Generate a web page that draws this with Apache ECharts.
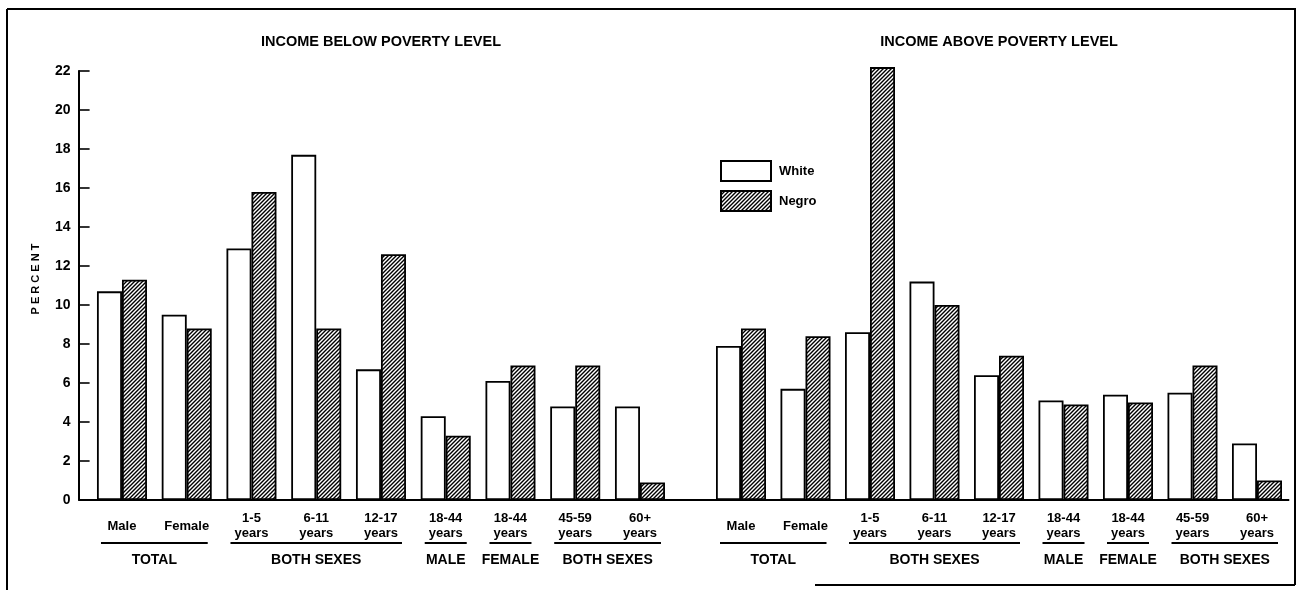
<!DOCTYPE html>
<html>
<head>
<meta charset="utf-8">
<script src="https://cdn.jsdelivr.net/npm/echarts@6/dist/echarts.min.js"></script>
<style>
  html, body { margin: 0; padding: 0; background: #fff; }
  #main { width: 1299px; height: 590px; }
</style>
</head>
<body>
<div id="main"></div>
<script>
// categories and values
const categories = ['Male', 'Female', '1-5\nyears', '6-11\nyears', '12-17\nyears', '18-44\nyears', '18-44\nyears', '45-59\nyears', '60+\nyears'];
const belowWhite = [10.7, 9.5, 12.9, 17.7, 6.7, 4.3, 6.1, 4.8, 4.8];
const belowNegro = [11.3, 8.8, 15.8, 8.8, 12.6, 3.3, 6.9, 6.9, 0.9];
const aboveWhite = [7.9, 5.7, 8.6, 11.2, 6.4, 5.1, 5.4, 5.5, 2.9];
const aboveNegro = [8.8, 8.4, 22.2, 10.0, 7.4, 4.9, 5.0, 6.9, 1.0];
const groupLabels = ['TOTAL', 'BOTH SEXES', 'MALE', 'FEMALE', 'BOTH SEXES'];
const groupSpans = [[0, 1], [2, 4], [5, 5], [6, 6], [7, 8]];
const panelTitles = ['INCOME BELOW POVERTY LEVEL', 'INCOME ABOVE POVERTY LEVEL'];
const yMin = 0, yMax = 22, yStep = 2;

const FONT = 'Liberation Sans, Arial, sans-serif';
const GRID_TOP = 71, GRID_BOTTOM = 90;
const grids = [
  { left: 89.6, top: GRID_TOP, width: 582.75, bottom: GRID_BOTTOM },
  { left: 708.75, top: GRID_TOP, width: 580.5, bottom: GRID_BOTTOM }
];

// diagonal hatch used for the Negro bars
function hatch() {
  const c = document.createElement('canvas');
  c.width = 4; c.height = 4;
  const ctx = c.getContext('2d');
  ctx.fillStyle = '#fff';
  ctx.fillRect(0, 0, 4, 4);
  ctx.strokeStyle = '#000';
  ctx.lineWidth = 1.4;
  ctx.beginPath();
  ctx.moveTo(0, 4); ctx.lineTo(4, 0);
  ctx.moveTo(-1, 1); ctx.lineTo(1, -1);
  ctx.moveTo(3, 5); ctx.lineTo(5, 3);
  ctx.stroke();
  return c;
}
const hatchFill = { image: hatch(), repeat: 'repeat' };

function xAxisFor(i) {
  return {
    type: 'category', gridIndex: i, data: categories,
    axisLine: { show: false }, axisTick: { show: false },
    axisLabel: {
      color: '#000', fontFamily: FONT, fontWeight: 'bold', fontSize: 13,
      lineHeight: 15, margin: 26, verticalAlign: 'middle', interval: 0
    }
  };
}
function yAxisFor(i) {
  return {
    type: 'value', gridIndex: i, min: yMin, max: yMax, interval: yStep,
    show: i === 0, offset: 11,
    splitLine: { show: false },
    axisLine: { show: true, lineStyle: { color: '#000', width: 2 } },
    axisTick: { show: true, inside: true, length: 11, lineStyle: { color: '#000', width: 1.6 } },
    axisLabel: { color: '#000', fontFamily: FONT, fontWeight: 'bold', fontSize: 14, margin: 8 }
  };
}
function barSeries(name, data, i, fill) {
  return {
    name: name, type: 'bar', data: data, xAxisIndex: i, yAxisIndex: i,
    barWidth: 25, barGap: '0%', clip: false,
    itemStyle: { color: fill, borderColor: '#000', borderWidth: 1.8 }
  };
}

const chart = echarts.init(document.getElementById('main'));
chart.setOption({
  animation: false,
  backgroundColor: '#fff',
  textStyle: { fontFamily: FONT },
  title: panelTitles.map((t, i) => ({
    text: t, left: grids[i].left + grids[i].width / 2, top: 34, textAlign: 'center', padding: 0,
    textStyle: { color: '#000', fontFamily: FONT, fontWeight: 'bold', fontSize: 14.5 }
  })),
  legend: {
    data: ['White', 'Negro'], orient: 'vertical', left: 715, top: 155,
    itemWidth: 50, itemHeight: 20, itemGap: 8, icon: 'rect',
    itemStyle: { borderColor: '#000', borderWidth: 2 },
    textStyle: { color: '#000', fontFamily: FONT, fontWeight: 'bold', fontSize: 13, padding: [0, 0, 0, 3] }
  },
  grid: grids,
  xAxis: [xAxisFor(0), xAxisFor(1)],
  yAxis: [yAxisFor(0), yAxisFor(1)],
  series: [
    barSeries('White', belowWhite, 0, '#fff'),
    barSeries('Negro', belowNegro, 0, hatchFill),
    barSeries('White', aboveWhite, 1, '#fff'),
    barSeries('Negro', aboveNegro, 1, hatchFill)
  ]
});

// baseline, group underlines and group names placed from the axes
const gfx = [];
const origin = chart.convertToPixel({ gridIndex: 0 }, [0, 0]);
const yAxisX = grids[0].left - 11;
const rightEnd = grids[1].left + grids[1].width;
gfx.push({ type: 'line', shape: { x1: yAxisX, y1: origin[1], x2: rightEnd, y2: origin[1] }, style: { stroke: '#000', lineWidth: 2 }, z: 10 });
[0, 1].forEach(function (gi) {
  groupSpans.forEach(function (span, k) {
    const x1 = chart.convertToPixel({ gridIndex: gi }, [span[0], 0])[0] - 21;
    const x2 = chart.convertToPixel({ gridIndex: gi }, [span[1], 0])[0] + 21;
    gfx.push({ type: 'line', shape: { x1: x1, y1: origin[1] + 43, x2: x2, y2: origin[1] + 43 }, style: { stroke: '#000', lineWidth: 2 } });
    gfx.push({
      type: 'text', x: (x1 + x2) / 2, y: origin[1] + 60,
      style: { text: groupLabels[k], fill: '#000', font: 'bold 14px ' + FONT, textAlign: 'center', textVerticalAlign: 'middle' }
    });
  });
});
gfx.push({
  type: 'text', x: 36, y: 279, rotation: Math.PI / 2,
  style: { text: 'P E R C E N T', fill: '#000', font: 'bold 11px ' + FONT, textAlign: 'center', textVerticalAlign: 'middle' }
});
// frame of the figure
const frame = [[7, 9, 1296, 9], [7, 9, 7, 590], [1295, 9, 1295, 585], [815, 585, 1295, 585]];
frame.forEach(function (f) {
  gfx.push({ type: 'line', shape: { x1: f[0], y1: f[1], x2: f[2], y2: f[3] }, style: { stroke: '#000', lineWidth: 2 } });
});
chart.setOption({ graphic: gfx });
</script>
</body>
</html>
